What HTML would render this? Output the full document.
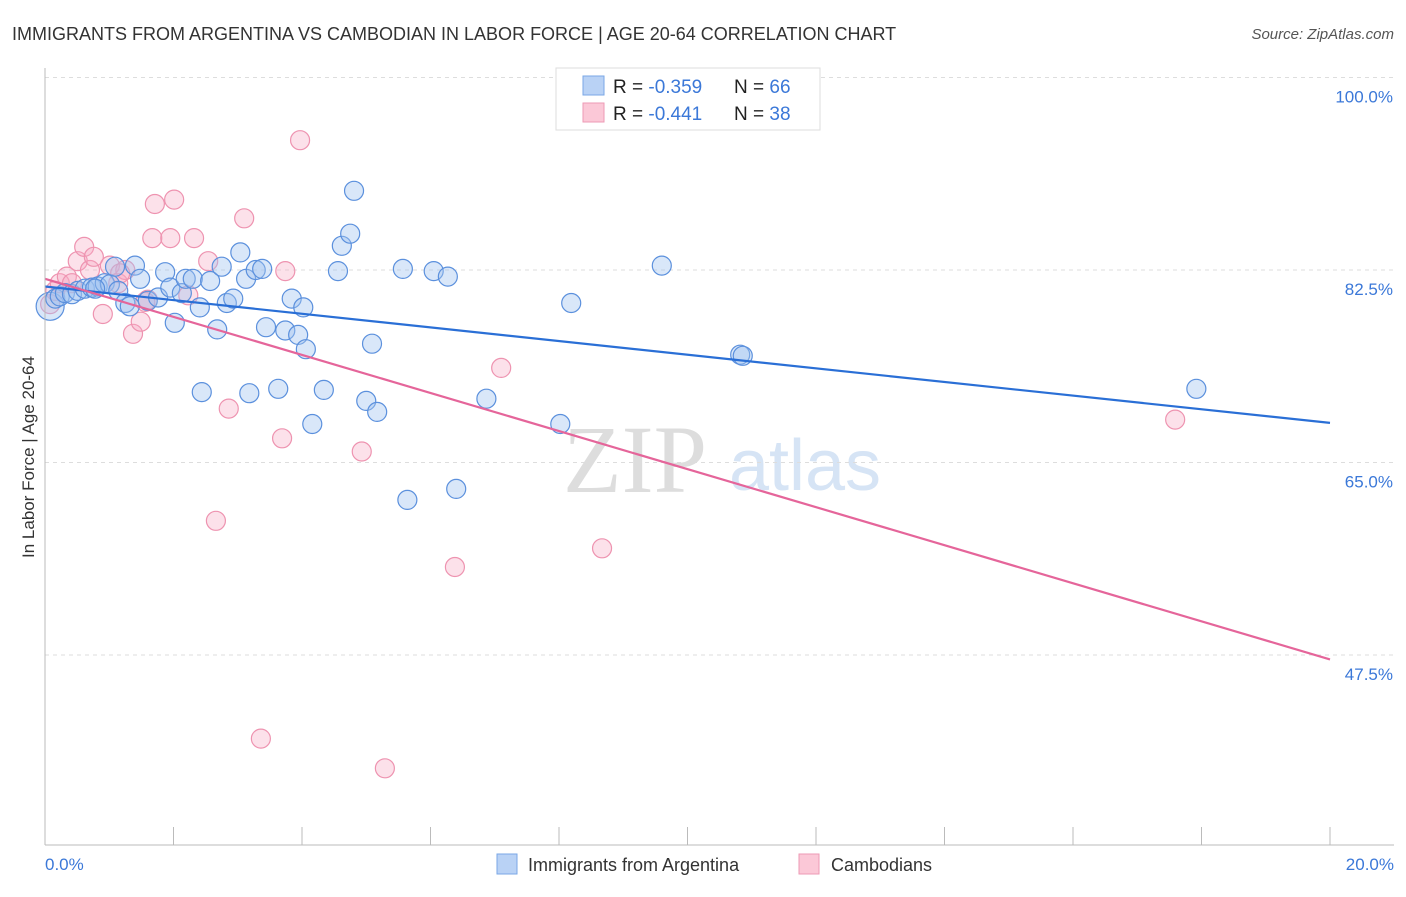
<!DOCTYPE html>
<html><head><meta charset="utf-8"><style>
body{margin:0;background:#fff;font-family:"Liberation Sans",sans-serif}
</style></head><body>
<svg width="1406" height="892" id="chart" xmlns="http://www.w3.org/2000/svg">
<text x="12" y="40" font-size="18" fill="#333">IMMIGRANTS FROM ARGENTINA VS CAMBODIAN IN LABOR FORCE | AGE 20-64 CORRELATION CHART</text>
<text x="1394" y="39" font-size="15" fill="#555" font-style="italic" text-anchor="end">Source: ZipAtlas.com</text>
<text x="635" y="492" font-size="96" fill="#ddd" font-family="Liberation Serif,serif" text-anchor="middle">ZIP</text>
<text x="805" y="490" font-size="72" fill="#d6e4f5" text-anchor="middle">atlas</text>
<g id="grid"></g><g id="ticks"></g><g id="marks"></g>
<line x1="45" y1="68" x2="45" y2="845" stroke="#bbb"/>
<line x1="45" y1="845" x2="1394" y2="845" stroke="#bbb"/>
<text transform="translate(34,457) rotate(-90)" font-size="17" fill="#333" text-anchor="middle">In Labor Force | Age 20-64</text>
<text x="45" y="870" font-size="17" fill="#3b78d8">0.0%</text>
<text x="1394" y="870" font-size="17" fill="#3b78d8" text-anchor="end">20.0%</text>
<g>
<rect x="556" y="68" width="264" height="62" fill="#fff" stroke="#ddd"/>
<rect x="583" y="76" width="21" height="19" fill="#b9d2f5" stroke="#7aa7e6"/>
<rect x="583" y="103" width="21" height="19" fill="#fbc8d7" stroke="#ee9ab4"/>
<text x="613" y="93" font-size="19" fill="#222">R = <tspan fill="#3b78d8">-0.359</tspan><tspan x="734">N = </tspan><tspan fill="#3b78d8">66</tspan></text>
<text x="613" y="120" font-size="19" fill="#222">R = <tspan fill="#3b78d8"> -0.441</tspan><tspan x="734">N = </tspan><tspan fill="#3b78d8">38</tspan></text>
</g>
<g>
<rect x="497" y="854" width="20" height="20" fill="#b9d2f5" stroke="#7aa7e6"/>
<text x="528" y="871" font-size="18" fill="#333">Immigrants from Argentina</text>
<rect x="799" y="854" width="20" height="20" fill="#fbc8d7" stroke="#ee9ab4"/>
<text x="831" y="871" font-size="18" fill="#333">Cambodians</text>
</g>
</svg>
<script>
const yTicks=[100,82.5,65,47.5];
const yTickLabels=["100.0%","82.5%","65.0%","47.5%"];
const blueX=[0.08,0.16,0.23,0.31,0.42,0.51,0.62,0.73,0.82,0.93,1.01,1.14,1.25,1.32,1.40,1.48,1.60,1.76,1.87,1.95,2.02,2.13,2.19,2.30,2.41,2.44,2.57,2.68,2.75,2.83,2.93,3.04,3.13,3.18,3.28,3.38,3.44,3.63,3.74,3.84,3.94,4.02,4.06,4.16,4.34,4.56,4.62,4.75,4.81,5.00,5.09,5.17,5.57,5.64,6.05,6.27,6.40,6.87,8.02,8.19,9.60,10.82,10.86,17.92,1.09,0.78];
const blueY=[79.2,79.9,80.1,80.4,80.3,80.6,80.8,80.9,81.0,81.3,81.2,80.6,79.5,79.2,82.9,81.7,79.7,80.0,82.3,80.9,77.7,80.4,81.7,81.7,79.1,71.4,81.5,77.1,82.8,79.5,79.9,84.1,81.7,71.3,82.5,82.6,77.3,71.7,77.0,79.9,76.6,79.1,75.3,68.5,71.6,82.4,84.7,85.8,89.7,70.6,75.8,69.6,82.6,61.6,82.4,81.9,62.6,70.8,68.5,79.5,82.9,74.8,74.7,71.7,82.8,80.8];
const pinkX=[0.08,0.16,0.23,0.34,0.42,0.51,0.61,0.70,0.76,0.90,1.01,1.14,1.25,1.37,1.49,1.60,1.67,1.71,1.95,2.01,2.23,2.32,2.54,2.66,2.86,3.10,3.36,3.69,3.74,3.97,4.93,5.29,6.38,7.10,8.67,17.59,1.17,1.56];
const pinkY=[79.4,80.6,81.3,81.9,81.3,83.3,84.6,82.5,83.7,78.5,82.9,81.3,82.5,76.7,77.8,79.8,85.4,88.5,85.4,88.9,80.2,85.4,83.3,59.7,69.9,87.2,39.9,67.2,82.4,94.3,66.0,37.2,55.5,73.6,57.2,68.9,82.2,79.6];
const blueTrend=[[0,81.0],[20,68.6]];
const pinkTrend=[[0,81.7],[20,47.1]];
const X=v=>45+v/20*1285, Y=v=>77.5+(100-v)/17.5*192.5;
const ns="http://www.w3.org/2000/svg";
function mk(tag,attrs,parent){const e=document.createElementNS(ns,tag);for(const k in attrs)e.setAttribute(k,attrs[k]);document.getElementById(parent).appendChild(e);return e;}
yTicks.forEach((t,i)=>{
 const l=mk('line',{x1:45,x2:1394,y1:Y(t),y2:Y(t),stroke:'#ddd','stroke-dasharray':'4,4'},'grid');
 
 
 const tx=mk('text',{x:1393,y:Y(t)+25,'font-size':17,fill:'#3b78d8','text-anchor':'end'},'grid');
 tx.textContent=yTickLabels[i];
 
 
});
for(let i=0;i<=10;i++){
 const t=mk('line',{x1:X(i*2),x2:X(i*2),y1:827,y2:845,stroke:'#bbb'},'ticks');
 
 
}
pinkX.forEach((x,i)=>{
 const c=mk('circle',{cx:X(x),cy:Y(pinkY[i]),r:9.5,fill:'rgba(246,170,195,0.35)',stroke:'#ee93b0','stroke-width':1.2},'marks');
 
 
});
blueX.forEach((x,i)=>{
 const c=mk('circle',{cx:X(x),cy:Y(blueY[i]),r:i==0?14:9.5,fill:'rgba(160,196,240,0.4)',stroke:'#5b90dd','stroke-width':1.2},'marks');
 
 
});
const bl=mk('line',{x1:X(blueTrend[0][0]),y1:Y(blueTrend[0][1]),x2:X(blueTrend[1][0]),y2:Y(blueTrend[1][1]),stroke:'#2a6fd6','stroke-width':2.2},'marks');


const pl=mk('line',{x1:X(pinkTrend[0][0]),y1:Y(pinkTrend[0][1]),x2:X(pinkTrend[1][0]),y2:Y(pinkTrend[1][1]),stroke:'#e5659a','stroke-width':2.2},'marks');


</script>
</body></html>
